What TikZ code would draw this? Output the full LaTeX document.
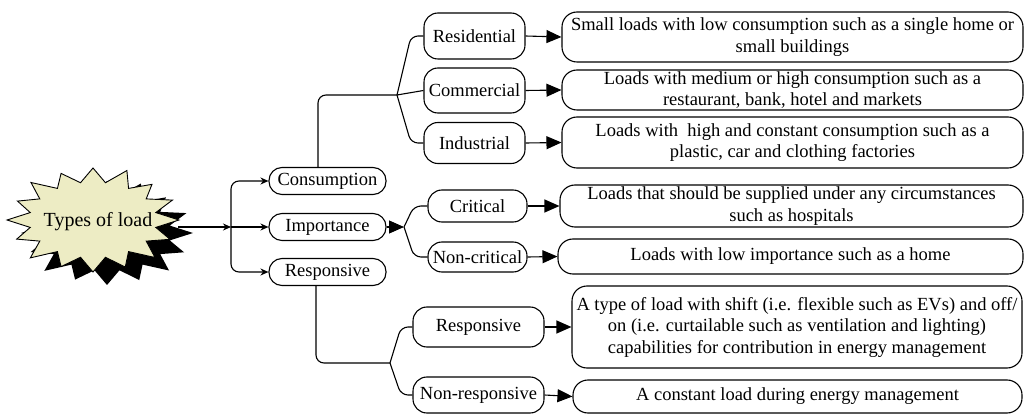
\documentclass[tikz,border=0pt]{standalone}
\usepackage{fontspec}
\setmainfont{Liberation Serif}
\usetikzlibrary{arrows.meta}
\definecolor{burstfill}{RGB}{237,236,196}

% outline of the explosion shape around the origin
\newcommand\burstoutline{%
  (0:86 and 52)
  \foreach \a/\f in {22.5/0.97,45/1.02,67.5/0.98,90/1.0,112.5/0.97,135/1.03,157.5/0.96,180/1.0,
                     202.5/0.95,225/1.02,247.5/0.97,270/1.0,292.5/1.03,315/0.97,337.5/1.0}{
    -- (\a-11.25:64 and 38) -- (\a:{86*\f} and {52*\f})
  } -- (348.75:64 and 38) -- cycle}

\begin{document}
\begin{tikzpicture}[x=1pt,y=-1pt,
  font=\fontsize{18.5}{21.5}\selectfont,
  line width=1.1pt,
  box/.style={draw, fill=white, align=center, inner sep=0pt},
  pill/.style={box, rounded corners=13pt, minimum width=117pt, minimum height=27pt},
  kind/.style={box, rounded corners=14pt},
  note/.style={box, rounded corners=15pt},
  smalltip/.style={-{Stealth[length=8pt,width=7pt]}},
  bigtip/.style={-{Triangle[length=15pt,width=13pt]}},
  brace/.style={rounded corners=7pt}]
\useasboundingbox (0,0) rectangle (1026,414);

% explosion with its drop shadow
\begin{scope}[shift={(107,233)}]
  \fill[black] \burstoutline;
\end{scope}
\begin{scope}[shift={(93,220)}]
  \draw[fill=burstfill, line width=0.9pt] \burstoutline;
\end{scope}
\node[font=\fontsize{20}{24}\selectfont] (types) at (98,222) {Types of load};

% first level
\node[pill] (cons) at (327.5,181) {Consumption};
\node[pill] (imp)  at (327.5,227) {Importance};
\node[pill] (resp) at (327.5,272) {Responsive};

% second level
\node[kind, minimum width=101pt, minimum height=46pt] (res)  at (474.5,36)  {Residential};
\node[kind, minimum width=101pt, minimum height=45pt] (com)  at (474.5,90.5) {Commercial};
\node[kind, minimum width=101pt, minimum height=41pt] (ind)  at (474.5,143) {Industrial};
\node[kind, minimum width=99pt,  minimum height=32pt] (crit) at (477.5,206) {Critical};
\node[kind, minimum width=99pt,  minimum height=30pt] (ncrit) at (477.5,257) {Non-critical};
\node[kind, minimum width=131pt, minimum height=40pt] (rsp)  at (478.5,327) {Responsive};
\node[kind, minimum width=131pt, minimum height=36pt] (nrsp) at (478.5,395) {Non-responsive};

% descriptions
\node[note, minimum width=461pt, minimum height=50pt] (d1) at (792.5,37)
  {Small loads with low consumption such as a single home or\\ small buildings};
\node[note, minimum width=461pt, minimum height=40pt] (d2) at (792.5,90)
  {Loads with medium or high consumption such as a\\ restaurant, bank, hotel and markets};
\node[note, minimum width=461pt, minimum height=51pt] (d3) at (792.5,142.5)
  {Loads with~ high and constant consumption such as a\\ plastic, car and clothing factories};
\node[note, minimum width=463pt, minimum height=42pt] (d4) at (791.5,206)
  {Loads that should be supplied under any circumstances\\ such as hospitals};
\node[note, minimum width=465pt, minimum height=35pt] (d5) at (790.5,256.5)
  {Loads with low importance such as a home};
\node[note, minimum width=450pt, minimum height=82pt] (d6) at (797,327)
  {A type of load with shift (i.e. flexible such as EVs) and off/\\ on (i.e. curtailable such as ventilation and lighting)\\ capabilities for contribution in energy management};
\node[note, minimum width=449pt, minimum height=33pt] (d7) at (797.5,396.5)
  {A constant load during energy management};

% junction points
\coordinate (burst-tip) at (178,227);
\coordinate (split) at (231,227);
\coordinate (cj) at (397,95);
\coordinate (ij) at (404,227);
\coordinate (rj) at (390,363);

% explosion to first level
\draw[smalltip] (burst-tip) -- (split);
\draw[smalltip, rounded corners=8pt] (split) |- (cons.west);
\draw[smalltip] (split) -- (imp.west);
\draw[smalltip, rounded corners=8pt] (split) |- (resp.west);

% consumption branch
\draw[rounded corners=8pt] ([xshift=-9.5pt]cons.north) |- (cj);
\draw[brace] (cj) -- ([xshift=14pt]cj |- res.west) -- (res.west);
\draw (cj) -- (com.west);
\draw[brace] (cj) -- ([xshift=14pt]cj |- ind.west) -- (ind.west);

% importance branch
\draw[bigtip] (imp.east) -- (ij);
\draw[brace] (ij) -- ([xshift=10pt]ij |- crit.west) -- (crit.west);
\draw[brace] (ij) -- ([xshift=10pt]ij |- ncrit.west) -- (ncrit.west);

% responsiveness branch
\draw[rounded corners=8pt] ([xshift=-11.5pt]resp.south) |- (rj);
\draw[brace] (rj) -- ([xshift=11pt]rj |- rsp.west) -- (rsp.west);
\draw[brace] (rj) -- ([xshift=11pt]rj |- nrsp.west) -- (nrsp.west);

% second level to descriptions
\draw[bigtip] (res.east) -- (d1.west);
\draw[bigtip] (com.east) -- (d2.west);
\draw[bigtip] (ind.east) -- (d3.west);
\draw[bigtip] (crit.east) -- (d4.west);
\draw[bigtip] (ncrit.east) -- (d5.west);
\draw[bigtip] (rsp.east) -- (d6.west);
\draw[bigtip] (nrsp.east) -- (d7.west);
\end{tikzpicture}
\end{document}
